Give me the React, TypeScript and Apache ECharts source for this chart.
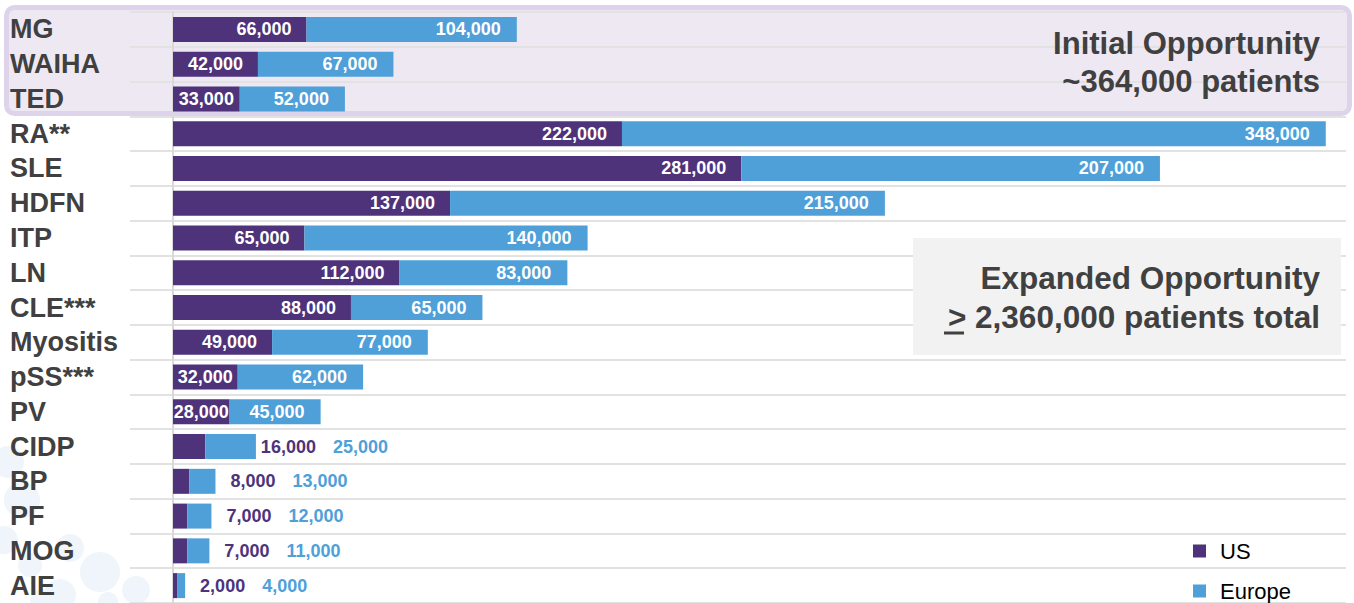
import React, { useEffect, useRef } from "react";
import * as echarts from "echarts";

const categories = ["MG", "WAIHA", "TED", "RA**", "SLE", "HDFN", "ITP", "LN", "CLE***", "Myositis", "pSS***", "PV", "CIDP", "BP", "PF", "MOG", "AIE"];
const usValues = [66000, 42000, 33000, 222000, 281000, 137000, 65000, 112000, 88000, 49000, 32000, 28000, 16000, 8000, 7000, 7000, 2000];
const europeValues = [104000, 67000, 52000, 348000, 207000, 215000, 140000, 83000, 65000, 77000, 62000, 45000, 25000, 13000, 12000, 11000, 4000];
const seriesNames = ["US", "Europe"];
const initialText = ["Initial Opportunity", "~364,000 patients"];
const expandedText = ["Expanded Opportunity", "> 2,360,000 patients total"];

const US_COLOR = "#4e337b";
const EU_COLOR = "#4fa0d8";
const TEXT_COLOR = "#404040";
const FONT = "'Liberation Sans', Arial, Helvetica, sans-serif";
const VALUE_SIZE = 18;

const fmt = (v: number) => String(v).replace(/\B(?=(\d{3})+(?!\d))/g, ",");
const isOutside = (i: number) => usValues[i] + europeValues[i] < 60000;

const usData = usValues.map((v, i) => ({
  value: v,
  label: isOutside(i)
    ? { show: false }
    : { show: true, position: v < 40000 ? "inside" : "insideRight", distance: 15 },
}));

const euData = europeValues.map((v, i) =>
  isOutside(i)
    ? {
        value: v,
        label: { show: true, position: "right", distance: 5, align: "right", offset: [142, 0] },
      }
    : { value: v }
);

const bubbles = [
  [8, 462, 16], [22, 500, 18], [4, 540, 14], [30, 565, 12], [70, 548, 14],
  [100, 572, 20], [60, 595, 16], [136, 590, 14], [108, 602, 10], [40, 600, 10],
];

export default function App() {
  const ref = useRef<HTMLDivElement>(null);
  useEffect(() => {
    const chart = echarts.init(ref.current!, null, { renderer: "svg" });
    const labelBase = {
      color: "#ffffff",
      fontFamily: FONT,
      fontWeight: "bold",
      fontSize: VALUE_SIZE,
    };
    const option: any = {
      animation: false,
      backgroundColor: "#ffffff",
      textStyle: { fontFamily: FONT },
      legend: {
        data: seriesNames,
        orient: "vertical",
        left: 1193,
        top: 540,
        height: 100,
        padding: 0,
        itemWidth: 13,
        itemHeight: 13,
        itemGap: 18,
        icon: "rect",
        textStyle: { fontSize: 22, color: "#000000", fontFamily: FONT, padding: [0, 0, 0, 9] },
      },
      grid: [
        { left: 173, right: 8, top: 12, height: 596 },
        { left: 130, width: 43, top: 12, height: 596 },
      ],
      xAxis: [
        { type: "value", gridIndex: 0, min: 0, max: 580000, show: false },
        { type: "value", gridIndex: 1, min: 0, max: 1, show: false },
      ],
      yAxis: [
        {
          type: "category",
          gridIndex: 0,
          data: categories,
          inverse: true,
          axisLine: { show: true, lineStyle: { color: "#d9d9d9", width: 2 } },
          axisTick: { show: false },
          splitLine: { show: true, interval: 0, lineStyle: { color: "#e2e2e2", width: 2 } },
          axisLabel: {
            interval: 0,
            hideOverlap: false,
            align: "left",
            margin: 163,
            fontSize: 27,
            fontWeight: "bold",
            color: TEXT_COLOR,
            fontFamily: FONT,
            padding: [4, 0, 0, 0],
          },
        },
        {
          type: "category",
          gridIndex: 1,
          data: categories,
          inverse: true,
          axisLine: { show: false },
          axisTick: { show: false },
          axisLabel: { show: false },
          splitLine: { show: true, interval: 0, lineStyle: { color: "#e2e2e2", width: 2 } },
        },
      ],
      series: [
        {
          name: seriesNames[0],
          type: "bar",
          stack: "total",
          xAxisIndex: 0,
          yAxisIndex: 0,
          barWidth: 25,
          itemStyle: { color: US_COLOR },
          label: { ...labelBase, formatter: (p: any) => fmt(p.value) },
          data: usData,
        },
        {
          name: seriesNames[1],
          type: "bar",
          stack: "total",
          xAxisIndex: 0,
          yAxisIndex: 0,
          barWidth: 25,
          itemStyle: { color: EU_COLOR },
          label: {
            ...labelBase,
            show: true,
            position: "insideRight",
            distance: 16,
            formatter: (p: any) =>
              isOutside(p.dataIndex)
                ? `{us|${fmt(usValues[p.dataIndex])}}{gap| }{eu|${fmt(p.value)}}`
                : fmt(p.value),
            rich: {
              us: { color: US_COLOR, fontSize: VALUE_SIZE, fontWeight: "bold", fontFamily: FONT, align: "left" },
              gap: { width: 17, fontSize: VALUE_SIZE, align: "left" },
              eu: { color: EU_COLOR, fontSize: VALUE_SIZE, fontWeight: "bold", fontFamily: FONT, width: 70, align: "left" },
            },
          },
          data: euData,
        },
      ],
      graphic: [
        ...bubbles.map(([cx, cy, r]) => ({
          type: "circle",
          z: -20,
          shape: { cx, cy, r },
          style: { fill: "#eff5fb" },
        })),
        {
          type: "rect",
          z: -10,
          shape: { x: 6.5, y: 7.5, width: 1343, height: 106, r: 8 },
          style: { fill: "#eee8f3", stroke: "#ddd3ea", lineWidth: 5 },
        },
        {
          type: "rect",
          z: 5,
          shape: { x: 913, y: 238, width: 428, height: 117 },
          style: { fill: "#f2f2f2" },
        },
        ...initialText.map((t, i) => ({
          type: "text",
          z: 6,
          x: 1320,
          y: i === 0 ? 43 : 81,
          style: {
            text: t,
            fill: TEXT_COLOR,
            font: `bold 31px ${FONT}`,
            textAlign: "right",
            align: "right",
            textVerticalAlign: "middle",
            verticalAlign: "middle",
          },
        })),
        ...expandedText.map((t, i) => ({
          type: "text",
          z: 6,
          x: 1320,
          y: i === 0 ? 278 : 317,
          style: {
            text: t,
            fill: TEXT_COLOR,
            font: `bold 31.5px ${FONT}`,
            textAlign: "right",
            align: "right",
            textVerticalAlign: "middle",
            verticalAlign: "middle",
          },
        })),
        {
          type: "line",
          z: 6,
          shape: { x1: 944, y1: 333, x2: 964, y2: 333 },
          style: { stroke: TEXT_COLOR, lineWidth: 3 },
        },
      ],
    };
    chart.setOption(option);
    return () => chart.dispose();
  }, []);
  return (
    <div
      ref={ref}
      style={{ position: "absolute", left: 0, top: 0, width: 1354, height: 603, background: "#ffffff" }}
    />
  );
}
